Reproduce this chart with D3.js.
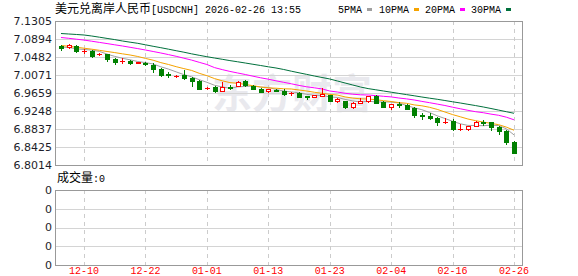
<!DOCTYPE html>
<html><head><meta charset="utf-8">
<script src="https://cdn.jsdelivr.net/npm/d3@7/dist/d3.min.js"></script>
<style>
html,body{margin:0;padding:0;background:#fff;}
svg{display:block;}
</style></head>
<body>
<svg id="chart" width="578" height="276"></svg>
<script>
const dates = ["12-05","12-08","12-09","12-10","12-11","12-12","12-15","12-16","12-17","12-18","12-19","12-22","12-23","12-24","12-25","12-26","12-29","12-30","12-31",
"01-01","01-02","01-05","01-06","01-07","01-08","01-09","01-12","01-13","01-14","01-15","01-16","01-19","01-20","01-21","01-22","01-23","01-26","01-27","01-28","01-29","01-30",
"02-02","02-03","02-04","02-05","02-06","02-09","02-10","02-11","02-12","02-13","02-16","02-17","02-18","02-19","02-20","02-23","02-24","02-25","02-26"];

const opens = [7.0734,7.0718,7.0734,7.0619,7.0619,7.0551,7.0544,7.0430,7.0402,7.0398,7.0345,7.0334,7.0299,7.0201,7.0105,7.0041,7.0071,6.9996,6.9934,
6.9785,6.9804,6.9705,6.9808,6.9826,6.9934,6.9826,6.9751,6.9694,6.9735,6.9705,6.9653,6.9653,6.9580,6.9561,6.9591,6.9614,6.9470,6.9477,6.9346,6.9424,6.9470,
6.9591,6.9461,6.9346,6.9408,6.9378,6.9310,6.9150,6.9141,6.9088,6.8997,6.9031,6.8837,6.8844,6.8912,6.8997,6.8990,6.8889,6.8798,6.8540];
const highs = [7.0763,7.0768,7.0757,7.0665,7.0631,7.0585,7.0562,7.0448,7.0459,7.0414,7.0379,7.0357,7.0334,7.0231,7.0140,7.0060,7.0185,7.0014,6.9957,
6.9808,6.9820,6.9911,6.9842,6.9934,6.9957,6.9842,6.9774,6.9751,6.9751,6.9762,6.9682,6.9671,6.9584,6.9625,6.9785,6.9625,6.9534,6.9488,6.9454,6.9545,6.9602,
6.9614,6.9477,6.9408,6.9465,6.9397,6.9340,6.9202,6.9191,6.9100,6.9088,6.9054,6.8951,6.8905,6.9031,6.9043,6.9008,6.8905,6.8814,6.8563];
const lows = [7.0649,7.0699,7.0597,7.0574,7.0489,7.0517,7.0398,7.0329,7.0345,7.0322,7.0334,7.0299,7.0140,7.0037,7.0025,7.0025,6.9980,6.9826,6.9740,
6.9762,6.9682,6.9694,6.9751,6.9820,6.9820,6.9740,6.9671,6.9682,6.9694,6.9625,6.9625,6.9568,6.9511,6.9557,6.9580,6.9477,6.9465,6.9328,6.9317,6.9420,6.9454,
6.9420,6.9340,6.9301,6.9340,6.9294,6.9111,6.9065,6.9065,6.8917,6.8985,6.8825,6.8825,6.8803,6.8905,6.8928,6.8814,6.8723,6.8494,6.8288];
const closes = [7.0695,7.0750,7.0619,7.0619,7.0512,7.0551,7.0437,7.0361,7.0402,7.0345,7.0357,7.0311,7.0197,7.0082,7.0082,7.0041,6.9996,6.9945,6.9751,
6.9785,6.9705,6.9804,6.9785,6.9918,6.9836,6.9751,6.9682,6.9740,6.9705,6.9637,6.9653,6.9575,6.9561,6.9614,6.9648,6.9484,6.9522,6.9333,6.9438,6.9484,6.9591,
6.9424,6.9346,6.9408,6.9385,6.9305,6.9157,6.9134,6.9088,6.9004,6.8997,6.8837,6.8837,6.8905,6.8997,6.8981,6.8889,6.8798,6.8540,6.8295];

const ma5 = [7.0711,7.0699,7.0670,7.0654,7.0640,7.0610,7.0549,7.0496,7.0453,7.0418,7.0379,7.0354,7.0322,7.0258,7.0206,7.0142,7.0080,7.0030,6.9964,
6.9904,6.9836,6.9799,6.9767,6.9799,6.9810,6.9820,6.9794,6.9785,6.9742,6.9703,6.9685,6.9664,6.9628,6.9609,6.9605,6.9570,6.9559,6.9513,6.9479,6.9452,6.9474,
6.9454,6.9456,6.9452,6.9431,6.9374,6.9321,6.9278,6.9214,6.9138,6.9077,6.9013,6.8956,6.8919,6.8917,6.8912,6.8924,6.8915,6.8841,6.8702];
const ma10 = [7.0745,7.0727,7.0706,7.0683,7.0661,7.0635,7.0608,7.0583,7.0555,7.0528,7.0494,7.0450,7.0409,7.0354,7.0311,7.0261,7.0217,7.0176,7.0110,
7.0055,6.9989,6.9938,6.9897,6.9881,6.9856,6.9826,6.9797,6.9776,6.9769,6.9756,6.9751,6.9728,6.9705,6.9676,6.9653,6.9628,6.9612,6.9570,6.9543,6.9527,6.9522,
6.9507,6.9484,6.9465,6.9440,6.9424,6.9388,6.9367,6.9333,6.9285,6.9225,6.9166,6.9116,6.9065,6.9027,6.8995,6.8967,6.8935,6.8880,6.8809];
const ma20 = [7.0928,7.0910,7.0889,7.0869,7.0843,7.0816,7.0789,7.0761,7.0734,7.0704,7.0674,7.0642,7.0608,7.0574,7.0537,7.0498,7.0455,7.0412,7.0361,
7.0311,7.0240,7.0194,7.0153,7.0117,7.0082,7.0044,7.0007,6.9975,6.9938,6.9904,6.9870,6.9833,6.9801,6.9778,6.9753,6.9705,6.9682,6.9653,6.9632,6.9618,6.9614,
6.9600,6.9584,6.9570,6.9545,6.9525,6.9500,6.9468,6.9438,6.9406,6.9374,6.9335,6.9299,6.9264,6.9232,6.9209,6.9177,6.9150,6.9107,6.9047];
const ma30 = [7.1019,7.1008,7.0997,7.0985,7.0962,7.0935,7.0907,7.0880,7.0848,7.0821,7.0795,7.0761,7.0727,7.0695,7.0661,7.0626,7.0592,7.0555,7.0521,
7.0489,7.0459,7.0430,7.0400,7.0373,7.0345,7.0316,7.0288,7.0258,7.0231,7.0197,7.0158,7.0121,7.0085,7.0048,7.0014,6.9980,6.9934,6.9888,6.9842,6.9797,6.9760,
6.9733,6.9705,6.9678,6.9650,6.9623,6.9596,6.9568,6.9541,6.9516,6.9488,6.9459,6.9431,6.9401,6.9372,6.9340,6.9305,6.9269,6.9232,6.9196];

const yTickLabels = ["7.1305","7.0894","7.0482","7.0071","6.9659","6.9248","6.8837","6.8425","6.8014"];
const xTickLabels = ["12-10","12-22","01-01","01-13","01-23","02-04","02-16","02-26"];
const volTickLabels = ["0","0","0","0","0"];
const maNames = ["5PMA","10PMA","20PMA","30PMA"];
const maColors = ["#a0a0a0","#f5a300","#ff00ff","#00703c"];
const titleCn = "美元兑离岸人民币";
const titleEn = "[USDCNH] 2026-02-26 13:55";
const volLabel = "成交量:0";

const svg = d3.select("#chart");
const L = 55, R = 522, T = 21, B = 165;
const VT = 190, VB = 265;

const x = d3.scalePoint().domain(dates).range([61, 514]);
const y = d3.scaleLinear().domain([6.8014, 7.1305]).range([B, T]);
const yv = d3.scaleLinear().domain([0, volTickLabels.length - 1]).range([VB, VT]);

const mono = "'Liberation Mono','DejaVu Sans Mono',monospace";
const cjk = "'Noto Sans CJK SC','Noto Sans',sans-serif";
const axisFont = "'DejaVu Sans',Tahoma,sans-serif";

// watermark
svg.append("text").attr("x", 292).attr("y", 108).attr("text-anchor", "middle")
  .attr("font-family", cjk).attr("font-size", 40).attr("font-weight", "bold")
  .attr("fill", "#e9e9ee").text("东方财富");

// horizontal grid main
svg.append("g").selectAll("line").data(yTickLabels).join("line")
  .attr("x1", L).attr("x2", R)
  .attr("y1", d => Math.round(y(+d)) + 0.5).attr("y2", d => Math.round(y(+d)) + 0.5)
  .attr("stroke", "#d4d4d4").attr("stroke-width", 1);
// horizontal grid volume
svg.append("g").selectAll("line").data(volTickLabels).join("line")
  .attr("x1", L).attr("x2", R)
  .attr("y1", (d, i) => Math.round(yv(i)) + 0.5).attr("y2", (d, i) => Math.round(yv(i)) + 0.5)
  .attr("stroke", "#d4d4d4").attr("stroke-width", 1);

// vertical dashed grids
[[T, B], [VT, VB]].forEach(([a, b]) => {
  svg.append("g").selectAll("line").data(xTickLabels).join("line")
    .attr("x1", d => Math.round(x(d)) + 0.5).attr("x2", d => Math.round(x(d)) + 0.5)
    .attr("y1", a).attr("y2", b)
    .attr("stroke", "#cccccc").attr("stroke-dasharray", "4,4").attr("stroke-width", 1);
});

// borders
svg.append("rect").attr("x", L + 0.5).attr("y", T + 0.5).attr("width", R - L).attr("height", B - T)
  .attr("fill", "none").attr("stroke", "#999").attr("stroke-width", 1);
svg.append("rect").attr("x", L + 0.5).attr("y", VT + 0.5).attr("width", R - L).attr("height", VB - VT)
  .attr("fill", "none").attr("stroke", "#999").attr("stroke-width", 1);

// y labels
svg.append("g").selectAll("text").data(yTickLabels).join("text")
  .attr("x", 52).attr("y", d => y(+d)).attr("dy", "0.36em").attr("text-anchor", "end")
  .attr("font-family", axisFont).attr("font-size", 11).attr("fill", "#1e1e2a").text(d => d);
svg.append("g").selectAll("text").data(volTickLabels).join("text")
  .attr("x", 52).attr("y", (d, i) => yv(i)).attr("dy", "0.36em").attr("text-anchor", "end")
  .attr("font-family", axisFont).attr("font-size", 11).attr("fill", "#1e1e2a").text(d => d);

// x labels
svg.append("g").selectAll("text").data(xTickLabels).join("text")
  .attr("x", d => x(d)).attr("y", 274).attr("text-anchor", "middle")
  .attr("font-family", mono).attr("font-size", 11).attr("textLength", 30).attr("lengthAdjust", "spacingAndGlyphs")
  .attr("fill", "#ff0000").text(d => d);

// MA lines
const maData = [ma5, ma10, ma20, ma30];
maData.forEach((arr, k) => {
  const line = d3.line().x((d, i) => x(dates[i])).y(d => y(d));
  svg.append("path").datum(arr).attr("d", line).attr("fill", "none")
    .attr("stroke", maColors[k]).attr("stroke-width", 1);
});

// candles
const cg = svg.append("g");
dates.forEach((d, i) => {
  const o = opens[i], c = closes[i], h = highs[i], l = lows[i];
  const up = c >= o;
  const col = up ? "#ff0000" : "#008000";
  const cx = Math.round(x(d));
  const yTop = Math.round(y(Math.max(o, c)));
  const yBot = Math.round(y(Math.min(o, c)));
  cg.append("line").attr("x1", cx + 0.5).attr("x2", cx + 0.5)
    .attr("y1", Math.round(y(h))).attr("y2", Math.round(y(l)) + 1)
    .attr("stroke", col).attr("stroke-width", 1);
  if (yBot - yTop < 1) {
    cg.append("line").attr("x1", cx - 2).attr("x2", cx + 3)
      .attr("y1", yTop + 0.5).attr("y2", yTop + 0.5).attr("stroke", col).attr("stroke-width", 1);
  } else if (up) {
    cg.append("rect").attr("x", cx - 2 + 0.5).attr("y", yTop + 0.5).attr("width", 4).attr("height", yBot - yTop)
      .attr("fill", "#fff").attr("stroke", col).attr("stroke-width", 1);
  } else {
    cg.append("rect").attr("x", cx - 2).attr("y", yTop).attr("width", 5).attr("height", yBot - yTop + 1)
      .attr("fill", col);
  }
});

// title
const title = svg.append("text").attr("x", 55).attr("y", 13).attr("fill", "#000");
title.append("tspan").attr("font-family", cjk).attr("font-size", 12).text(titleCn);
title.append("tspan").attr("x", 151).attr("font-family", mono).attr("font-size", 11)
  .attr("textLength", 150).attr("lengthAdjust", "spacingAndGlyphs").text(titleEn);

// legend
const legX = [338, 379, 425, 471];
maNames.forEach((n, k) => {
  svg.append("text").attr("x", legX[k]).attr("y", 13).attr("font-family", mono).attr("font-size", 11)
    .attr("textLength", n.length * 6).attr("lengthAdjust", "spacingAndGlyphs").attr("fill", "#000").text(n);
  svg.append("rect").attr("x", legX[k] + n.length * 6 + 5).attr("y", 8).attr("width", 5).attr("height", 3)
    .attr("fill", maColors[k]);
});

// volume label
const vl = svg.append("text").attr("x", 57).attr("y", 182).attr("fill", "#000");
vl.append("tspan").attr("font-family", cjk).attr("font-size", 12).text(volLabel.slice(0, 3));
vl.append("tspan").attr("font-family", mono).attr("font-size", 11).attr("textLength", 12)
  .attr("lengthAdjust", "spacingAndGlyphs").text(volLabel.slice(3));
</script>
</body></html>
